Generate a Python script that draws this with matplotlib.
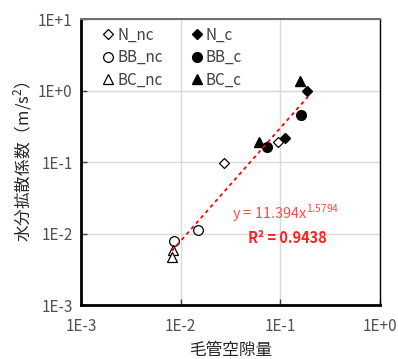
import matplotlib
matplotlib.use("Agg")
import matplotlib.pyplot as plt
import numpy as np

plt.rcParams['font.family'] = ['Noto Sans CJK JP', 'DejaVu Sans']

# data
N_nc_x = [0.0272, 0.094]
N_nc_y = [0.097, 0.19]
N_c_x = [0.112, 0.185]
N_c_y = [0.217, 0.98]
BB_nc_x = [0.00855, 0.0149]
BB_nc_y = [0.00785, 0.0112]
BB_c_x = [0.073, 0.161]
BB_c_y = [0.162, 0.454]
BC_nc_x = [0.00835, 0.0082]
BC_nc_y = [0.00587, 0.00469]
BC_c_x = [0.061, 0.157]
BC_c_y = [0.19, 1.36]
fit_a = 11.394
fit_b = 1.5794
fit_range = [0.0082, 0.19]
xticks = [1e-3, 1e-2, 1e-1, 1e0]
xticklabels = ['1E-3', '1E-2', '1E-1', '1E+0']
yticks = [1e-3, 1e-2, 1e-1, 1e0, 1e1]
yticklabels = ['1E-3', '1E-2', '1E-1', '1E+0', '1E+1']

fig = plt.figure(figsize=(3.98, 3.59), dpi=100)
ax = fig.add_axes([0.2035, 0.150, 0.7515, 0.797])
ax.set_xscale('log')
ax.set_yscale('log')
ax.set_xlim(1e-3, 1e0)
ax.set_ylim(1e-3, 1e1)

ax.grid(True, which='major', color='#d9d9d9', linewidth=1.0, zorder=0)
ax.set_axisbelow(True)

ms = 7
h = {}
h['N_nc'], = ax.plot(N_nc_x, N_nc_y, linestyle='none', marker='D', markersize=5.5, markerfacecolor='white',
        markeredgecolor='black', markeredgewidth=0.9, label='N_nc', zorder=3)
h['N_c'], = ax.plot(N_c_x, N_c_y, linestyle='none', marker='D', markersize=5.5, markerfacecolor='black',
        markeredgecolor='black', label='N_c', zorder=3)
h['BB_nc'], = ax.plot(BB_nc_x, BB_nc_y, linestyle='none', marker='o', markersize=ms, markerfacecolor='white',
        markeredgecolor='black', markeredgewidth=0.9, label='BB_nc', zorder=3)
h['BB_c'], = ax.plot(BB_c_x, BB_c_y, linestyle='none', marker='o', markersize=ms, markerfacecolor='black',
        markeredgecolor='black', label='BB_c', zorder=3)
h['BC_nc'], = ax.plot(BC_nc_x, BC_nc_y, linestyle='none', marker='^', markersize=ms, markerfacecolor='white',
        markeredgecolor='black', markeredgewidth=0.9, label='BC_nc', zorder=3)
h['BC_c'], = ax.plot(BC_c_x, BC_c_y, linestyle='none', marker='^', markersize=ms, markerfacecolor='black',
        markeredgecolor='black', label='BC_c', zorder=3)

xf = np.logspace(np.log10(fit_range[0]), np.log10(fit_range[1]), 100)
ax.plot(xf, fit_a * xf ** fit_b, color='#ff0000', linestyle=(0, (2, 2)), linewidth=1.3, zorder=4)

ax.text(0.505, 0.322, r'y = 11.394x$^{\mathregular{1.5794}}$', transform=ax.transAxes,
        color='#ff4a4a', fontsize=10.5, ha='left', va='center')
ax.text(0.69, 0.235, 'R² = 0.9438', transform=ax.transAxes,
        color='#ff2020', fontsize=10.5, fontweight='bold', ha='center', va='center')

ax.set_xticks(xticks)
ax.set_xticklabels(xticklabels)
ax.set_yticks(yticks)
ax.set_yticklabels(yticklabels)
ax.minorticks_off()
ax.tick_params(axis='both', which='major', direction='in', length=4, width=1, color='#404040',
               labelsize=11, labelcolor='#505050', pad=6)
ax.tick_params(axis='x', pad=9)

for s in ['left', 'bottom']:
    ax.spines[s].set_linewidth(2.0)
    ax.spines[s].set_color('black')
ax.spines['right'].set_linewidth(1.0)
ax.spines['right'].set_color('black')
ax.spines['top'].set_linewidth(1.5)
ax.spines['top'].set_color('#707070')

ax.set_xlabel('毛管空隙量', fontsize=12, color='#262626', labelpad=5)
ax.set_ylabel('水分拡散係数（m/s$^{\\mathregular{2}}$）', fontsize=12, color='#262626', labelpad=3)

order = ['N_nc', 'BB_nc', 'BC_nc', 'N_c', 'BB_c', 'BC_c']
leg = ax.legend([h[k] for k in order], order, loc='upper left', ncol=2, frameon=False, fontsize=11,
                handletextpad=0.1, columnspacing=1.7, labelspacing=0.35, borderaxespad=0.1,
                handlelength=1.0, bbox_to_anchor=(0.04, 1.0))
for t in leg.get_texts():
    t.set_color('#404040')

fig.savefig('out.png', dpi=100)
